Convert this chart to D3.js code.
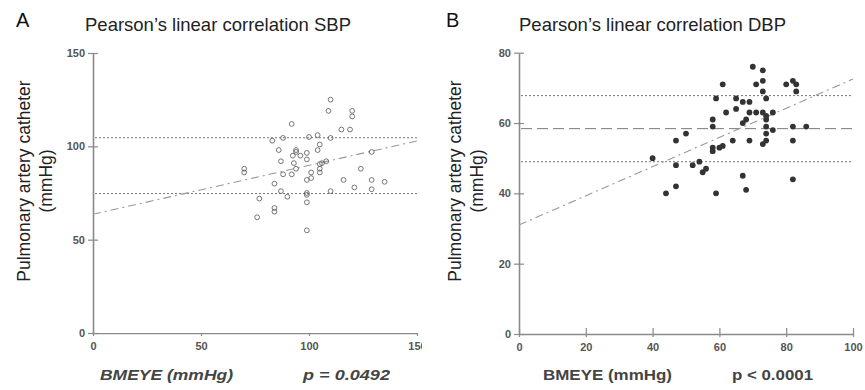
<!DOCTYPE html>
<html>
<head>
<meta charset="utf-8">
<script src="https://cdn.jsdelivr.net/npm/d3@7"></script>
<style>
  body { margin: 0; background: #fff; }
  text { font-family: "Liberation Sans", Arial, sans-serif; }
</style>
</head>
<body>
<script>
// ---- data ----
const sbpBmeye = [110,109,120,120,92,115,119,83,88,100,104,110,105,104,86,94,94,92.5,96,99,99,87,93,94,106,105,108,105,105,101,101,99,88,92,70,70,124,129,84,87,90,99,99,110,116,121,129,129,135,77,99,84,84,76,99];
const sbpPac   = [125,119,119,116,112,109,109,103,104.5,105,106,104.5,101,98,98,98,97,95,95,96.5,93,92,91,88,91,90.5,92,88,86,86,83,82,85,85,88,86,88,97,80,76,73,75,74,76,82,78,82,77,81,72,70,67,65,62,55];
const sbpLimits = [104.6, 74.7];
const sbpFit = [[0, 63.6], [150, 102.9]];

const dbpBmeye = [70,73,73,71,61,80,82,83,83,73,59,65,67,69,74,65,62,69,71,73,74,76,74,68,67,58,58,74,76,82,86,74,50,47,64,69,74,73,82,61,60,58,58,40,47,52,54,56,55,67,82,47,44,59,68];
const dbpPac   = [76,75,72,71,71,71,72,71,69,69,67,67,66,66,67,64,63,63,63,63,62,63,61,61,60,61,59,59,58,59,59,57,57,55,55,55,55,54,55,53.5,53,53,52,50,48,48,49,47,46,45,44,42,40,40,41];
const dbpLimits = [67.8, 49.0];
const dbpMean = 58.4;
const dbpFit = [[0, 31], [100, 72.5]];

const sbpXTicks = [0, 50, 100, 150];
const sbpYTicks = [0, 50, 100, 150];
const dbpXTicks = [0, 20, 40, 60, 80, 100];
const dbpYTicks = [0, 20, 40, 60, 80];

const svg = d3.select('body').append('svg')
  .attr('width', 865).attr('height', 390);

svg.append('defs').append('clipPath').attr('id', 'clipA')
  .append('rect').attr('x', 0).attr('y', 0).attr('width', 422).attr('height', 390);

function drawPanel(p) {
  const x = d3.scaleLinear().domain(p.xDomain).range(p.xRange);
  const y = d3.scaleLinear().domain(p.yDomain).range(p.yRange);
  const g = svg.append('g');

  // axes
  const yAxis = g.append('g')
    .attr('transform', `translate(${p.xRange[0]},0)`)
    .call(d3.axisLeft(y).tickValues(p.yTicks).tickSize(5).tickSizeOuter(0).tickPadding(3));
  yAxis.selectAll('.tick line').attr('x1', 5);
  const xAxis = g.append('g')
    .attr('transform', `translate(0,${p.yRange[0]})`)
    .call(d3.axisBottom(x).tickValues(p.xTicks).tickSize(3).tickSizeOuter(0).tickPadding(6));
  xAxis.selectAll('.tick line').attr('y1', -6);
  if (p.clip) xAxis.attr('clip-path', 'url(#' + p.clip + ')');
  [xAxis, yAxis].forEach(a => {
    a.select('.domain').attr('stroke', '#8a8a8a').attr('stroke-width', 1.6);
    a.selectAll('.tick line').attr('stroke', '#8a8a8a').attr('stroke-width', 1.2);
    a.selectAll('.tick text').attr('fill', '#555').style('font-size', '11px').style('font-weight', 'bold');
  });

  // reference lines
  p.limits.forEach(v => {
    g.append('line')
      .attr('x1', x(p.xDomain[0]) + 2).attr('x2', x(p.xDomain[1]))
      .attr('y1', y(v)).attr('y2', y(v))
      .attr('stroke', '#777').attr('stroke-width', 1).attr('stroke-dasharray', '2,2');
  });
  if (p.mean != null) {
    g.append('line')
      .attr('x1', x(p.xDomain[0]) + 2).attr('x2', x(p.xDomain[1]))
      .attr('y1', y(p.mean)).attr('y2', y(p.mean))
      .attr('stroke', '#777').attr('stroke-width', 1).attr('stroke-dasharray', '11,5');
  }
  g.append('path')
    .attr('d', d3.line().x(d => x(d[0])).y(d => y(d[1]))(p.fit))
    .attr('fill', 'none').attr('stroke', '#999').attr('stroke-width', 1.1)
    .attr('stroke-dasharray', '8,4,2,4');

  // points
  g.append('g').selectAll('circle')
    .data(p.xs.map((v, i) => [v, p.ys[i]]))
    .join('circle')
    .attr('cx', d => x(d[0])).attr('cy', d => y(d[1]))
    .attr('r', p.filled ? 2.9 : 2.4)
    .attr('fill', p.filled ? '#333' : 'none')
    .attr('stroke', p.filled ? 'none' : '#555')
    .attr('stroke-width', 0.8);

  // texts
  g.append('text').attr('x', p.letterX).attr('y', 27)
    .style('font-size', '20px').attr('fill', '#111').text(p.letter);
  g.append('text').attr('x', p.titleX).attr('y', 31)
    .style('font-size', '18.5px').attr('fill', '#222').text(p.title);

  const yl = g.append('text')
    .attr('transform', `translate(${p.yLabelX},181) rotate(-90)`)
    .attr('text-anchor', 'middle').attr('fill', '#222').style('font-size', '17.5px');
  yl.append('tspan').attr('x', 0).attr('y', 0).text('Pulmonary artery catheter');
  yl.append('tspan').attr('x', 0).attr('y', 22).text('(mmHg)');

  g.append('text').attr('x', p.xLabel[0]).attr('y', 380)
    .attr('fill', '#444').style('font-size', '15px').style('font-weight', 'bold')
    .style('font-style', p.italic ? 'italic' : 'normal')
    .attr('textLength', p.xLabel[1]).attr('lengthAdjust', 'spacingAndGlyphs')
    .text('BMEYE (mmHg)');
  g.append('text').attr('x', p.pLabel[0]).attr('y', 380)
    .attr('fill', '#444').style('font-size', '15px').style('font-weight', 'bold')
    .style('font-style', p.italic ? 'italic' : 'normal')
    .attr('textLength', p.pLabel[1]).attr('lengthAdjust', 'spacingAndGlyphs')
    .text(p.pText);
}

drawPanel({
  xDomain: [0, 150], yDomain: [0, 150], xRange: [93, 417], yRange: [333, 53],
  xTicks: sbpXTicks, yTicks: sbpYTicks, xs: sbpBmeye, ys: sbpPac, filled: false,
  limits: sbpLimits, mean: null, fit: sbpFit, clip: 'clipA',
  letter: 'A', letterX: 16, title: 'Pearson\u2019s linear correlation SBP', titleX: 85,
  yLabelX: 30, xLabel: [100, 133], pLabel: [303, 87], pText: 'p = 0.0492', italic: true
});

drawPanel({
  xDomain: [0, 100], yDomain: [0, 80], xRange: [519, 853], yRange: [334, 52.7],
  xTicks: dbpXTicks, yTicks: dbpYTicks, xs: dbpBmeye, ys: dbpPac, filled: true,
  limits: dbpLimits, mean: dbpMean, fit: dbpFit, clip: null,
  letter: 'B', letterX: 446, title: 'Pearson\u2019s linear correlation DBP', titleX: 519,
  yLabelX: 461, xLabel: [543, 129], pLabel: [732, 81], pText: 'p < 0.0001', italic: false
});
</script>
</body>
</html>
